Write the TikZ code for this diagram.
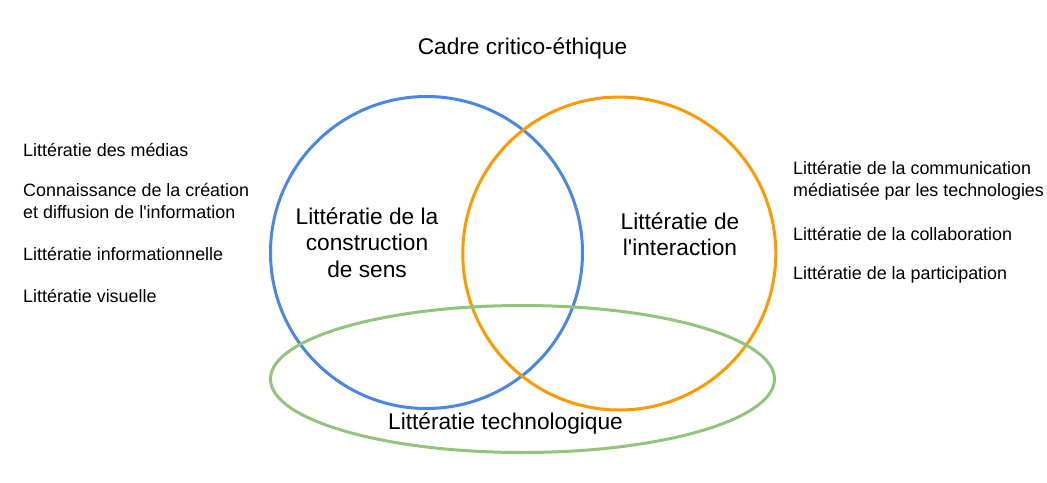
\documentclass[tikz,border=0pt]{standalone}
\usepackage{fontspec}
\setmainfont{Liberation Sans}
\usetikzlibrary{shapes.geometric}
\definecolor{sensblue}{HTML}{4A86E8}
\definecolor{interorange}{HTML}{FF9900}
\definecolor{technogreen}{HTML}{93C47D}

\begin{document}
\begin{tikzpicture}[x=1pt, y=-1pt,
    ring/.style={draw, line width=3pt, inner sep=0pt},
    big/.style={font=\fontsize{22.7}{26.5}\selectfont, align=center, inner sep=0pt},
    small/.style={font=\fontsize{17.9}{21.6}\selectfont, align=left, inner sep=0pt, anchor=base west}]
    \fill[white] (0,0) rectangle (1047,482);
    \useasboundingbox (0,0) rectangle (1047,482);
    % Sets
    \node[ring, circle, draw=sensblue, minimum size=312pt](sens)   at (426.5,252.5) {};
    \node[ring, circle, draw=interorange, minimum size=313pt](inter) at (619.3,253.5) {};
    \node[ring, ellipse, draw=technogreen, minimum width=504pt, minimum height=147pt](techno) at (522.5,379) {};
    % Set labels (base = last line)
    \node[big, anchor=base](cadre)     at (522.5,54)  {Cadre critico-éthique};
    \node[big, anchor=base](sensl)     at (367,277)   {Littératie de la\\construction\\de sens};
    \node[big, anchor=base](interl)    at (680,255.5) {Littératie de\\l\textquotesingle interaction};
    \node[big, anchor=base](technol)   at (505.5,429) {Littératie technologique};
    % Left list
    \node[small](medias)  at (23,156)  {Littératie des médias};
    \node[small](creation) at (23,218.3) {Connaissance de la création\\et diffusion de l\textquotesingle information};
    \node[small](info)    at (23,260)  {Littératie informationnelle};
    \node[small](visu)    at (23,302)  {Littératie visuelle};
    % Right list
    \node[small](comm)    at (793,196.5) {Littératie de la communication\\médiatisée par les technologies};
    \node[small](collab)  at (793,240) {Littératie de la collaboration};
    \node[small](partic)  at (793,279) {Littératie de la participation};
\end{tikzpicture}
\end{document}
